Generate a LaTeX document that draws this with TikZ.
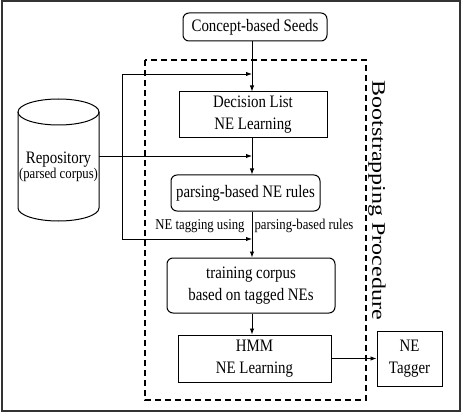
\documentclass[tikz,border=0pt]{standalone}
\usepackage{fontspec}
\setmainfont[FakeStretch=0.85]{Liberation Serif}
\newfontfamily\plainserif{Liberation Serif}
\usetikzlibrary{arrows.meta}

\tikzset{
  box/.style={draw, line width=1pt, align=center, inner sep=0pt, font=\fontsize{17.5}{22}\selectfont},
  rbox/.style={box, rounded corners=6pt},
  flow/.style={line width=0.9pt, -{Latex[length=6pt,width=4.5pt]}},
  small/.style={font=\fontsize{15}{18}\selectfont}
}

\begin{document}
\begin{tikzpicture}[x=1pt,y=-1pt]
  \useasboundingbox (0,0) rectangle (464,412);
  \draw[line width=1.6pt, black!80] (2,1) rectangle (460,411);
  % bootstrapping frame
  \draw[line width=1.4pt, dash pattern=on 6pt off 4pt] (145,60) rectangle (366,400);
  \node[rotate=-90, yscale=0.8, font=\plainserif\fontsize{24}{28}\selectfont] (boot) at (377,200) {Bootstrapping Procedure};

  \node[rbox, minimum width=144, minimum height=28] (seeds) at (255,27) {Concept-based Seeds};
  \node[box, minimum width=148, minimum height=46] (decision) at (253,115) {Decision List\\NE Learning};
  \node[rbox, minimum width=149, minimum height=36] (rules) at (245.5,193) {parsing-based NE rules};
  \node[rbox, minimum width=168, minimum height=55] (training) at (251,285.5) {training corpus\\based on tagged NEs};
  \node[box, minimum width=153, minimum height=47] (hmm) at (254.5,358.5) {HMM\\NE Learning};
  \node[box, minimum width=65, minimum height=55] (tagger) at (409.5,358.5) {NE\\Tagger};

  % repository cylinder
  \draw[line width=1pt] (18,112) -- (18,208) arc[start angle=180, end angle=0, x radius=40.5, y radius=13] -- (99,112);
  \draw[line width=1pt] (58.5,112) ellipse [x radius=40.5, y radius=13];
  \node[align=center, inner sep=0pt] (repo) at (58.5,167)
    {\fontsize{17.5}{22}\selectfont Repository\\{\fontsize{15}{18}\selectfont (parsed corpus)}};

  \node[small] (tagl) at (200,226) {NE tagging using};
  \node[small] (tagr) at (304,226) {parsing-based rules};

  \coordinate (repoe) at (99,156);
  \coordinate (j1) at (252,74);
  \coordinate (j2) at (252,156);
  \coordinate (j3) at (252,239);
  \coordinate (loopt) at (122,74);
  \coordinate (loopb) at (122,239);

  \draw[flow] (seeds.south -| j1) -- (decision.north -| j1);
  \draw[flow] (decision.south -| j1) -- (rules.north -| j1);
  \draw[flow] (rules.south -| j1) -- (training.north -| j1);
  \draw[flow] (training.south -| j1) -- (hmm.north -| j1);
  \draw[flow] (hmm) -- (tagger);
  \draw[flow] (repoe) -- (j2);
  \draw[flow] (loopb) -- (j3);
  \draw[flow] (loopb) -- (loopt) -- (j1);
\end{tikzpicture}
\end{document}
